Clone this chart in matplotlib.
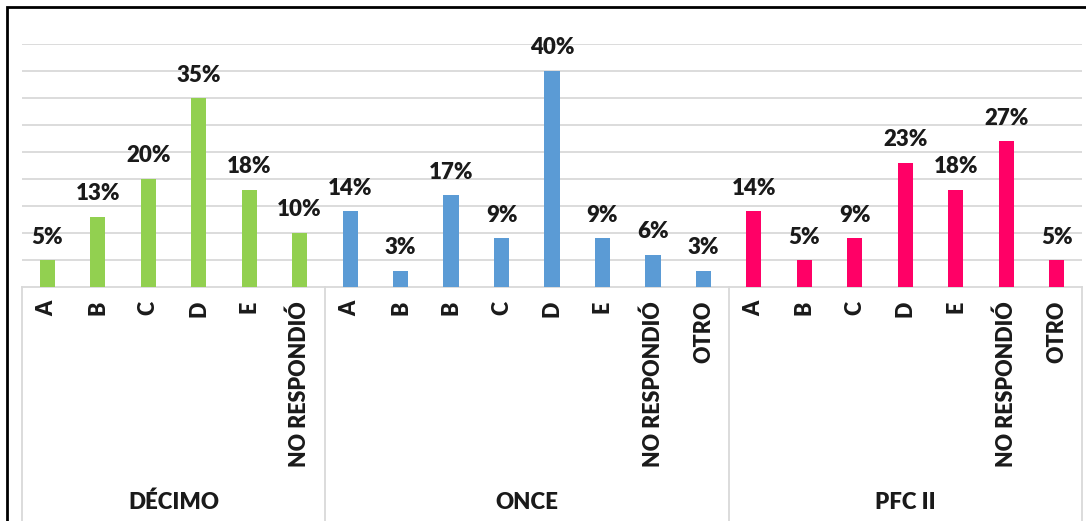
import numpy as np
import matplotlib
matplotlib.use('Agg')
import matplotlib.pyplot as plt
from matplotlib.patches import Rectangle

plt.rcParams['font.family'] = ['Lato', 'DejaVu Sans']

# Data
groups = ['DÉCIMO', 'ONCE', 'PFC II']
decimo_cats = ['A', 'B', 'C', 'D', 'E', 'NO RESPONDIÓ']
decimo_vals = [5, 13, 20, 35, 18, 10]
once_cats = ['A', 'B', 'B', 'C', 'D', 'E', 'NO RESPONDIÓ', 'OTRO']
once_vals = [14, 3, 17, 9, 40, 9, 6, 3]
pfc_cats = ['A', 'B', 'C', 'D', 'E', 'NO RESPONDIÓ', 'OTRO']
pfc_vals = [14, 5, 9, 23, 18, 27, 5]

colors = ['#92D050', '#5B9BD5', '#FF0066']
grid_col = '#D9D9D9'

fig = plt.figure(figsize=(10.86, 5.21), dpi=100)
W, H = 1086, 521
ax = fig.add_axes([22/W, (H-287)/H, (1082-22)/W, (287-44)/H])

cats_all = [decimo_cats, once_cats, pfc_cats]
vals_all = [decimo_vals, once_vals, pfc_vals]

start = 0
labels = []
bounds = [-0.5]
for g, cats, vals, col in zip(groups, cats_all, vals_all, colors):
    x = np.arange(start, start+len(cats))
    bars = ax.bar(x, vals, width=0.3, color=col, zorder=3)
    for xi, v in zip(x, vals):
        ax.annotate(str(v)+'%', (xi, v), xytext=(0, 9), textcoords='offset points',
                    ha='center', va='bottom', fontsize=16, fontweight='heavy', color='#1a1a1a')
    # group label
    ax.text(x.mean(), -0.885, g, transform=ax.get_xaxis_transform(),
            ha='center', va='center', fontsize=16, fontweight='heavy', color='#1a1a1a')
    labels += cats
    start += len(cats)
    bounds.append(start-0.5)

ax.set_xlim(-0.5, start-0.5)
ax.set_ylim(0, 45)
ax.set_xticks(np.arange(start))
ax.set_xticklabels(labels, rotation=90, fontsize=15.5, fontweight='heavy', color='#1a1a1a')
ax.tick_params(axis='x', length=0, pad=10)
ax.set_yticks(np.arange(5, 46, 5))
ax.tick_params(axis='y', length=0, labelleft=False)
ax.grid(axis='y', color=grid_col, linewidth=1.3, zorder=0)
for s in ['top', 'right', 'left']:
    ax.spines[s].set_visible(False)
ax.spines['bottom'].set_color(grid_col)
ax.spines['bottom'].set_linewidth(1.3)

# group separator lines below the axis
for b in bounds:
    ax.plot([b, b], [0, -1.2], transform=ax.get_xaxis_transform(), color=grid_col,
            linewidth=1.3, clip_on=False)

# black frame of the screenshot
fig.add_artist(Rectangle((7/W, -0.2), 1.2, (H-7)/H + 0.2, transform=fig.transFigure,
                         fill=False, edgecolor='black', linewidth=2))

fig.savefig('out.png', dpi=100)
